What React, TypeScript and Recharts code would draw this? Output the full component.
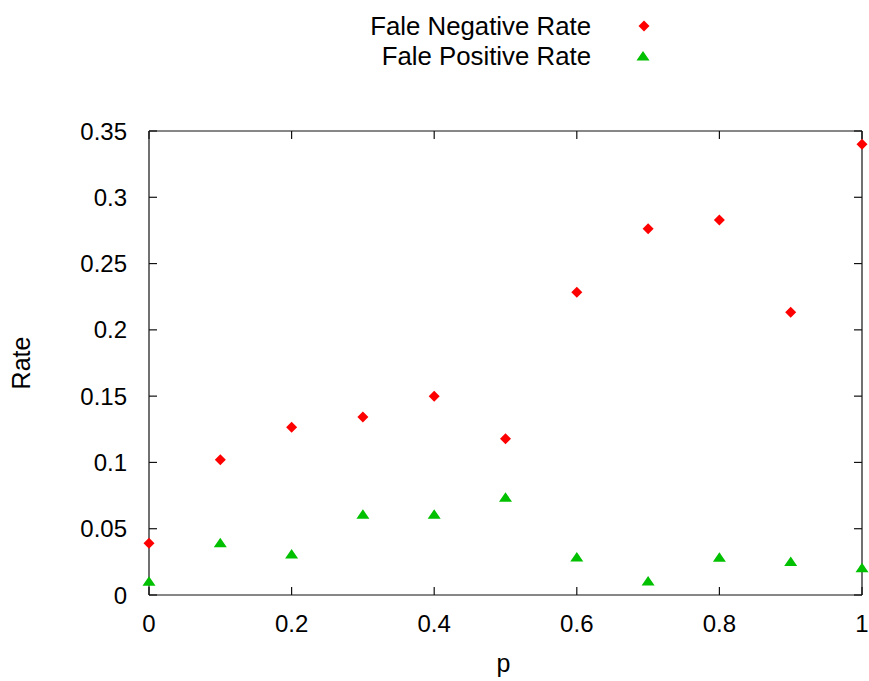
import { ScatterChart, Scatter, XAxis, YAxis, Label } from "recharts";

const pValues = [0, 0.1, 0.2, 0.3, 0.4, 0.5, 0.6, 0.7, 0.8, 0.9, 1];
const falseNegative = [0.039, 0.102, 0.1265, 0.1343, 0.15, 0.1178, 0.2283, 0.2763, 0.2829, 0.2133, 0.34];
const falsePositive = [0.0103, 0.0395, 0.031, 0.0609, 0.0609, 0.0737, 0.0287, 0.0106, 0.0284, 0.0252, 0.0206];

const xTicks = [0, 0.2, 0.4, 0.6, 0.8, 1];
const yTicks = [0, 0.05, 0.1, 0.15, 0.2, 0.25, 0.3, 0.35];

const RED = "#ff0000";
const GREEN = "#00c000";
const AXIS = "#111";
const FONT = "'Liberation Sans', Arial, sans-serif";
const TICK_LEN = 8;

const negData = pValues.map((p, i) => ({ p, rate: falseNegative[i] }));
const posData = pValues.map((p, i) => ({ p, rate: falsePositive[i] }));

function Diamond(props: any) {
  const { cx, cy } = props;
  return (
    <polygon
      points={`${cx},${cy - 5.5} ${cx + 5.5},${cy} ${cx},${cy + 5.5} ${cx - 5.5},${cy}`}
      fill={RED}
    />
  );
}

function Triangle(props: any) {
  const { cx, cy } = props;
  return (
    <polygon
      points={`${cx},${cy - 5} ${cx + 6.5},${cy + 4.5} ${cx - 6.5},${cy + 4.5}`}
      fill={GREEN}
    />
  );
}

const fmt = (v: number) => String(Number(v.toFixed(2)));

// gnuplot style: ticks point inward, labels outside
function BottomTick(props: any) {
  const { x, y, payload } = props;
  return (
    <g>
      <line x1={x} y1={y} x2={x} y2={y - TICK_LEN} stroke={AXIS} strokeWidth={1.2} />
      <text x={x} y={y + 37} textAnchor="middle" fontSize={24} fontFamily={FONT} fill="#000">
        {fmt(payload.value)}
      </text>
    </g>
  );
}

function TopTick(props: any) {
  const { x, y } = props;
  return <line x1={x} y1={y} x2={x} y2={y + TICK_LEN} stroke={AXIS} strokeWidth={1.2} />;
}

function LeftTick(props: any) {
  const { x, y, payload } = props;
  return (
    <g>
      <line x1={x} y1={y} x2={x + TICK_LEN} y2={y} stroke={AXIS} strokeWidth={1.2} />
      <text x={x - 22} y={y + 8.5} textAnchor="end" fontSize={24} fontFamily={FONT} fill="#000">
        {fmt(payload.value)}
      </text>
    </g>
  );
}

function RightTick(props: any) {
  const { x, y } = props;
  return <line x1={x} y1={y} x2={x - TICK_LEN} y2={y} stroke={AXIS} strokeWidth={1.2} />;
}

const series = [
  { name: "Fale Negative Rate", marker: "diamond" },
  { name: "Fale Positive Rate", marker: "triangle" },
];

function LegendBox() {
  return (
    <div
      style={{
        position: "absolute",
        top: 11,
        left: 260,
        width: 398,
        fontFamily: FONT,
        fontSize: 25.8,
        color: "#000",
      }}
    >
      {series.map((s) => (
        <div
          key={s.name}
          style={{ display: "flex", alignItems: "center", height: 30, justifyContent: "flex-end" }}
        >
          <span style={{ marginRight: 43 }}>{s.name}</span>
          <svg width={24} height={20}>
            {s.marker === "diamond" ? (
              <Diamond cx={10} cy={10} />
            ) : (
              <Triangle cx={9} cy={10} />
            )}
          </svg>
        </div>
      ))}
    </div>
  );
}

const axisLine = { stroke: AXIS, strokeWidth: 1.2 };

export default function App() {
  return (
    <div style={{ position: "absolute", left: 0, top: 0, width: 869, height: 681, background: "#fff" }}>
      <LegendBox />
      <ScatterChart
        width={869}
        height={681}
        margin={{ top: 130, right: 6, bottom: 0, left: 0 }}
      >
        <XAxis
          xAxisId="bottom"
          dataKey="p"
          type="number"
          domain={[0, 1]}
          ticks={xTicks}
          height={86}
          tickSize={0}
          tickMargin={0}
          tickLine={false}
          axisLine={axisLine}
          tick={<BottomTick />}
        >
          <Label
            content={(props: any) => {
              const vb = props.viewBox;
              return (
                <text
                  x={vb.x + vb.width / 2 - 2}
                  y={vb.y + 77}
                  textAnchor="middle"
                  fontSize={25}
                  fontFamily={FONT}
                  fill="#000"
                >
                  p
                </text>
              );
            }}
          />
        </XAxis>
        <XAxis
          xAxisId="top"
          orientation="top"
          dataKey="p"
          type="number"
          domain={[0, 1]}
          ticks={xTicks}
          height={1}
          tickSize={0}
          tickMargin={0}
          tickLine={false}
          axisLine={axisLine}
          tick={<TopTick />}
        />
        <YAxis
          yAxisId="left"
          dataKey="rate"
          type="number"
          domain={[0, 0.35]}
          ticks={yTicks}
          width={149}
          tickSize={0}
          tickMargin={0}
          tickLine={false}
          axisLine={axisLine}
          tick={<LeftTick />}
        >
          <Label
            content={(props: any) => {
              const vb = props.viewBox;
              const cx = vb.x + 30;
              const cy = vb.y + vb.height / 2;
              return (
                <text
                  x={cx}
                  y={cy}
                  transform={`rotate(-90 ${cx} ${cy})`}
                  textAnchor="middle"
                  fontSize={25}
                  fontFamily={FONT}
                  fill="#000"
                >
                  Rate
                </text>
              );
            }}
          />
        </YAxis>
        <YAxis
          yAxisId="right"
          orientation="right"
          dataKey="rate"
          type="number"
          domain={[0, 0.35]}
          ticks={yTicks}
          width={1}
          tickSize={0}
          tickMargin={0}
          tickLine={false}
          axisLine={axisLine}
          tick={<RightTick />}
        />
        <Scatter
          name="Fale Negative Rate"
          data={negData}
          xAxisId="bottom"
          yAxisId="left"
          shape={<Diamond />}
          isAnimationActive={false}
        />
        <Scatter
          name="Fale Positive Rate"
          data={posData}
          xAxisId="top"
          yAxisId="right"
          shape={<Triangle />}
          isAnimationActive={false}
        />
      </ScatterChart>
    </div>
  );
}
